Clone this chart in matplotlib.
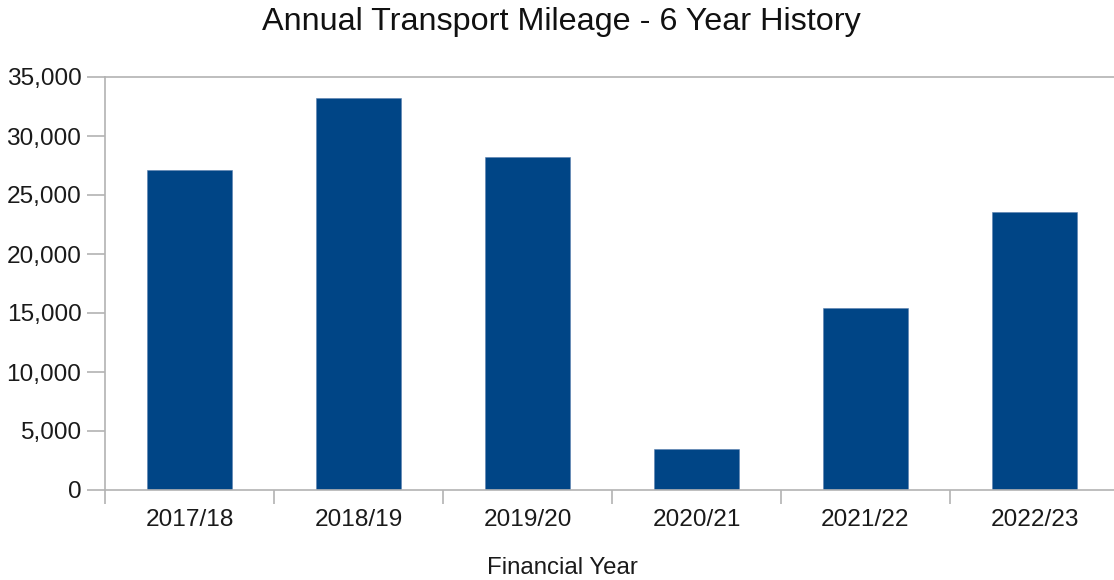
import numpy as np
import matplotlib.pyplot as plt
from matplotlib.ticker import FuncFormatter

plt.rcParams['font.family'] = ['Liberation Sans', 'DejaVu Sans']

years = ["2017/18", "2018/19", "2019/20", "2020/21", "2021/22", "2022/23"]
mileage = [27100, 33250, 28200, 3500, 15450, 23530]

grey = "#b3b3b3"

fig = plt.figure(figsize=(11.14, 5.8), dpi=100)
ax = fig.add_axes([105 / 1114, 1 - 490 / 580, (1119 - 105) / 1114, (490 - 77) / 580])

x = np.arange(len(years))
ax.bar(x, mileage, width=0.5, color="#004586", edgecolor="#5a80b0", linewidth=0.4, zorder=2)

ax.set_xlim(-0.5, len(years) - 0.5)
ax.set_ylim(0, 35000)
ax.set_yticks(np.arange(0, 35001, 5000))
ax.yaxis.set_major_formatter(FuncFormatter(lambda v, p: f"{int(v):,}"))

# boundaries get the tick marks, centres get the labels
ax.set_xticks(np.arange(-0.5, len(years), 1.0))
ax.set_xticklabels([])
ax.set_xticks(x, minor=True)
ax.set_xticklabels(years, minor=True)
ax.tick_params(axis="x", which="major", length=10, width=1.2, color=grey)
ax.tick_params(axis="x", which="minor", length=0, pad=14, labelsize=17.6, labelcolor="#1a1a1a")
ax.tick_params(axis="y", length=13, width=1.2, color=grey, pad=4, labelsize=17.6, labelcolor="#1a1a1a")

for side in ["left", "bottom", "top"]:
    ax.spines[side].set_color(grey)
    ax.spines[side].set_linewidth(1.2)
ax.spines["right"].set_visible(False)

fig.text(0.504, 1 - 22 / 580, "Annual Transport Mileage - 6 Year History",
         ha="center", va="center", fontsize=23.3, color="#111111")
fig.text(0.505, 1 - 568 / 580, "Financial Year", ha="center", va="center",
         fontsize=17.3, color="#1a1a1a")

fig.savefig("out.png", dpi=100)
